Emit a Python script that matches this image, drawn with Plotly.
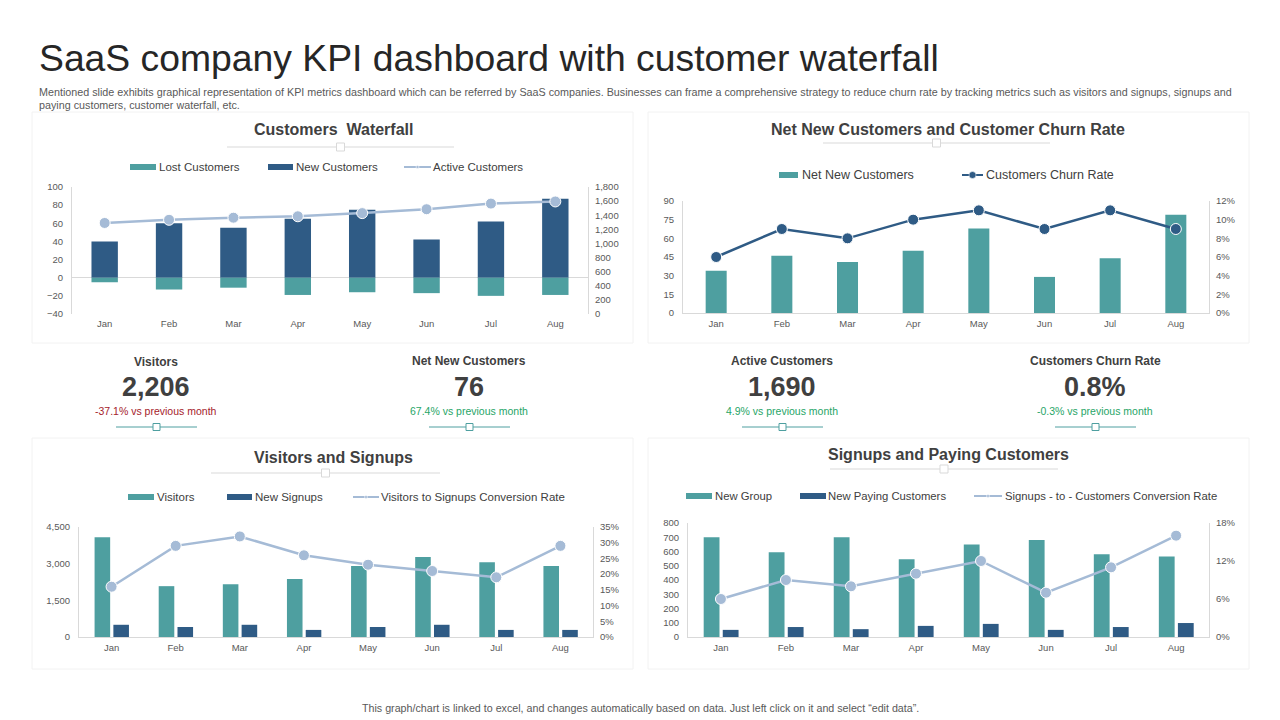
import plotly.graph_objects as go

W = 1280
H = 720

months = ["Jan", "Feb", "Mar", "Apr", "May", "Jun", "Jul", "Aug"]

# Customers Waterfall
lost_customers = [-5, -13, -11, -19, -16, -17, -20, -19]
new_customers = [40, 60, 55, 65, 75, 42, 62, 87]
active_customers = [1290, 1335, 1365, 1385, 1430, 1485, 1565, 1595]

# Net New Customers and Customer Churn Rate
net_new_customers = [34, 46, 41, 50, 68, 29, 44, 79]
churn_rate = [6, 9, 8, 10, 11, 9, 11, 9]

# Visitors and Signups
visitors = [4080, 2080, 2160, 2370, 2900, 3270, 3060, 2900]
new_signups = [500, 410, 500, 290, 410, 500, 290, 290]
visitor_conversion = [16, 29, 32, 26, 23, 21, 19, 29]

# Signups and Paying Customers
new_group = [700, 595, 700, 545, 650, 680, 580, 565]
new_paying = [50, 70, 55, 78, 92, 50, 70, 98]
paying_conversion = [6, 9, 8, 10, 12, 7, 11, 16]

TEAL = "#4E9FA0"
NAVY = "#2F5B85"
LIGHT = "#A5BBD6"
TEXT = "#404040"
GREY = "#595959"
AXIS = "#D9D9D9"
FONT = "Liberation Sans"


def px(x):
    return x / W


def py(y):
    return 1 - y / H


fig = go.Figure()
shapes = []
notes = []


def text(x, y, s, size, color=TEXT, bold=False, anchor="center"):
    if bold:
        s = "<b>" + s + "</b>"
    notes.append(dict(x=px(x), y=py(y), xref="paper", yref="paper", text=s, showarrow=False,
                      xanchor=anchor, yanchor="middle", align="left", borderpad=0, borderwidth=0,
                      font=dict(family=FONT, size=size, color=color)))


def divider(x0, x1, y, color, fill="white", size=8):
    mid = (x0 + x1) / 2
    shapes.append(dict(type="line", xref="paper", yref="paper", x0=px(x0), x1=px(x1), y0=py(y), y1=py(y),
                       line=dict(color=color, width=1)))
    shapes.append(dict(type="rect", xref="paper", yref="paper", x0=px(mid - size / 2), x1=px(mid + size / 2),
                       y0=py(y - size / 2), y1=py(y + size / 2), fillcolor=fill, line=dict(color=color, width=1)))


def swatch(x0, x1, y, color):
    shapes.append(dict(type="rect", xref="paper", yref="paper", x0=px(x0), x1=px(x1), y0=py(y - 3), y1=py(y + 3),
                       fillcolor=color, line=dict(width=0)))


def legend_line(x0, x1, y, color, dot=3):
    mid = (x0 + x1) / 2
    shapes.append(dict(type="line", xref="paper", yref="paper", x0=px(x0), x1=px(x1), y0=py(y), y1=py(y),
                       line=dict(color=color, width=2)))
    shapes.append(dict(type="circle", xref="paper", yref="paper", x0=px(mid - dot), x1=px(mid + dot),
                       y0=py(y - dot), y1=py(y + dot), fillcolor=color, line=dict(color="white", width=0.5)))


# cards
for x0, x1, y0, y1 in [(32, 633, 112, 343), (648, 1249, 112, 343), (32, 633, 438, 669), (648, 1249, 438, 669)]:
    shapes.append(dict(type="rect", xref="paper", yref="paper", x0=px(x0), x1=px(x1), y0=py(y0), y1=py(y1),
                       line=dict(color="#F2F2F2", width=1), fillcolor="white", layer="below"))


def axes(n, x0, x1, top, bottom, left_range, left_step, right_range, right_step, right_suffix="", zero=False):
    xa = "xaxis" if n == 1 else "xaxis%d" % n
    ya = 2 * n - 1
    yb = 2 * n
    tick_font = dict(family=FONT, size=9.5, color=GREY)
    layout = {}
    layout[xa] = dict(domain=[px(x0), px(x1)], anchor="y%d" % ya, type="category", showgrid=False, automargin=False,
                      showline=not zero, linecolor=AXIS, ticks="", tickfont=tick_font, ticklabelstandoff=2,
                      zeroline=False)
    layout["yaxis%d" % ya] = dict(domain=[py(bottom), py(top)], anchor="x%d" % n, range=left_range, dtick=left_step,
                                  tick0=left_range[0], showgrid=False, showline=True, linecolor=AXIS, ticks="",
                                  tickfont=tick_font, tickformat=",d", zeroline=zero, zerolinecolor=AXIS,
                                  zerolinewidth=1, automargin=False, ticklabelstandoff=6)
    layout["yaxis%d" % yb] = dict(domain=[py(bottom), py(top)], anchor="x%d" % n, overlaying="y%d" % ya, side="right",
                                  range=right_range, dtick=right_step, showgrid=False, showline=True, linecolor=AXIS,
                                  ticks="", tickfont=tick_font, tickformat=",d", ticksuffix=right_suffix,
                                  zeroline=False, automargin=False, ticklabelstandoff=4)
    fig.update_layout(**layout)


def bars(n, name, values, color, width, offset):
    fig.add_trace(go.Bar(name=name, x=months, y=values, marker_color=color, marker_line_width=0,
                         xaxis="x%d" % n, yaxis="y%d" % (2 * n - 1), offsetgroup=name,
                         width=width, offset=offset, showlegend=False))


def rate(n, name, values, color, line_width):
    fig.add_trace(go.Scatter(name=name, x=months, y=values, mode="lines+markers",
                             line=dict(color=color, width=line_width),
                             marker=dict(color=color, size=11, line=dict(color="white", width=1)),
                             xaxis="x%d" % n, yaxis="y%d" % (2 * n), showlegend=False))


# Customers Waterfall: both bars share one slot, stacked around zero
axes(1, 72, 588, 187, 314, [-40, 100], 20, [0, 1800], 200, zero=True)
fig.add_trace(go.Bar(name="New Customers", x=months, y=new_customers, marker_color=NAVY, marker_line_width=0,
                     xaxis="x1", yaxis="y1", width=0.41, showlegend=False))
fig.add_trace(go.Bar(name="Lost Customers", x=months, y=lost_customers, marker_color=TEAL, marker_line_width=0,
                     xaxis="x1", yaxis="y1", width=0.41, showlegend=False))
rate(1, "Active Customers", active_customers, LIGHT, 2.5)

# Net New Customers and Customer Churn Rate
axes(2, 683, 1209, 201, 313, [0, 90], 15, [0, 12], 2, "%")
bars(2, "Net New Customers", net_new_customers, TEAL, 0.32, -0.16)
rate(2, "Customers Churn Rate", churn_rate, NAVY, 2.5)

# Visitors and Signups
axes(3, 79, 593, 527, 637, [0, 4500], 1500, [0, 35], 5, "%")
bars(3, "Visitors", visitors, TEAL, 0.243, -0.265)
bars(3, "New Signups", new_signups, NAVY, 0.243, 0.028)
rate(3, "Visitors to Signups Conversion Rate", visitor_conversion, LIGHT, 2.5)

# Signups and Paying Customers
axes(4, 688, 1209, 523, 637, [0, 800], 100, [0, 18], 6, "%")
bars(4, "New Group", new_group, TEAL, 0.243, -0.265)
bars(4, "New Paying Customers", new_paying, NAVY, 0.243, 0.028)
rate(4, "Signups - to - Customers Conversion Rate", paying_conversion, LIGHT, 2.5)

# heading
text(39, 58, "SaaS company KPI dashboard with customer waterfall", 37.3, "#262626", anchor="left")
text(39, 92, "Mentioned slide exhibits graphical representation of KPI metrics dashboard which can be referred by SaaS "
             "companies. Businesses can frame a comprehensive strategy to reduce churn rate by tracking metrics such "
             "as visitors and signups, signups and", 10.75, GREY, anchor="left")
text(39, 105, "paying customers, customer waterfall, etc.", 10.75, GREY, anchor="left")
text(640, 708, "This graph/chart is linked to excel, and changes automatically based on data. Just left click on it "
               "and select “edit data”.", 10.7, GREY)

# card titles
text(333, 129, "Customers  Waterfall", 16, TEXT, True)
text(948, 129, "Net New Customers and Customer Churn Rate", 16, TEXT, True)
text(333, 457, "Visitors and Signups", 16, TEXT, True)
text(948, 454, "Signups and Paying Customers", 16, TEXT, True)
divider(227, 454, 147, AXIS)
divider(823, 1050, 143, AXIS)
divider(211, 440, 473, AXIS)
divider(830, 1058, 469, AXIS)

# legends
swatch(130, 156, 167, TEAL)
text(159, 167, "Lost Customers", 11.5, anchor="left")
swatch(268, 293, 167, NAVY)
text(296, 167, "New Customers", 11.5, anchor="left")
legend_line(404, 431, 167, LIGHT, 1.5)
text(433, 167, "Active Customers", 11.5, anchor="left")

swatch(779, 798, 175, TEAL)
text(802, 175, "Net New Customers", 12.5, anchor="left")
legend_line(962, 983, 175, NAVY, 3.5)
text(986, 175, "Customers Churn Rate", 12.5, anchor="left")

swatch(128, 154, 497, TEAL)
text(157, 497, "Visitors", 11.5, anchor="left")
swatch(227, 252, 497, NAVY)
text(255, 497, "New Signups", 11.5, anchor="left")
legend_line(353, 379, 497, LIGHT, 1.5)
text(381, 497, "Visitors to Signups Conversion Rate", 11.5, anchor="left")

swatch(686, 712, 496, TEAL)
text(715, 496, "New Group", 11.3, anchor="left")
swatch(800, 826, 496, NAVY)
text(828, 496, "New Paying Customers", 11.3, anchor="left")
legend_line(974, 1002, 496, LIGHT, 1.5)
text(1005, 496, "Signups - to - Customers Conversion Rate", 11.3, anchor="left")

# KPI block
RED = "#A5222B"
GREEN = "#27A567"
kpis = [
    (156, "Visitors", "2,206", "-37.1% vs previous month", RED, 362),
    (469, "Net New Customers", "76", "67.4% vs previous month", GREEN, 361),
    (782, "Active Customers", "1,690", "4.9% vs previous month", GREEN, 361),
    (1095, "Customers Churn Rate", "0.8%", "-0.3% vs previous month", GREEN, 361),
]
for x, label, value, change, color, y in kpis:
    text(x, y, label, 12, TEXT, True)
    text(x, 387, value, 27, TEXT, True)
    text(x, 411, change, 10.5, color)
    divider(x - 40, x + 41, 427, "#4E9FA0", size=7)

fig.update_layout(width=W, height=H, margin=dict(l=0, r=0, t=0, b=0), paper_bgcolor="white", plot_bgcolor="rgba(0,0,0,0)",
                  barmode="relative", showlegend=False, shapes=shapes, annotations=notes, font=dict(family=FONT))

fig.write_html("out.html", config={"displayModeBar": False}, post_script="document.body.style.margin='0';")
